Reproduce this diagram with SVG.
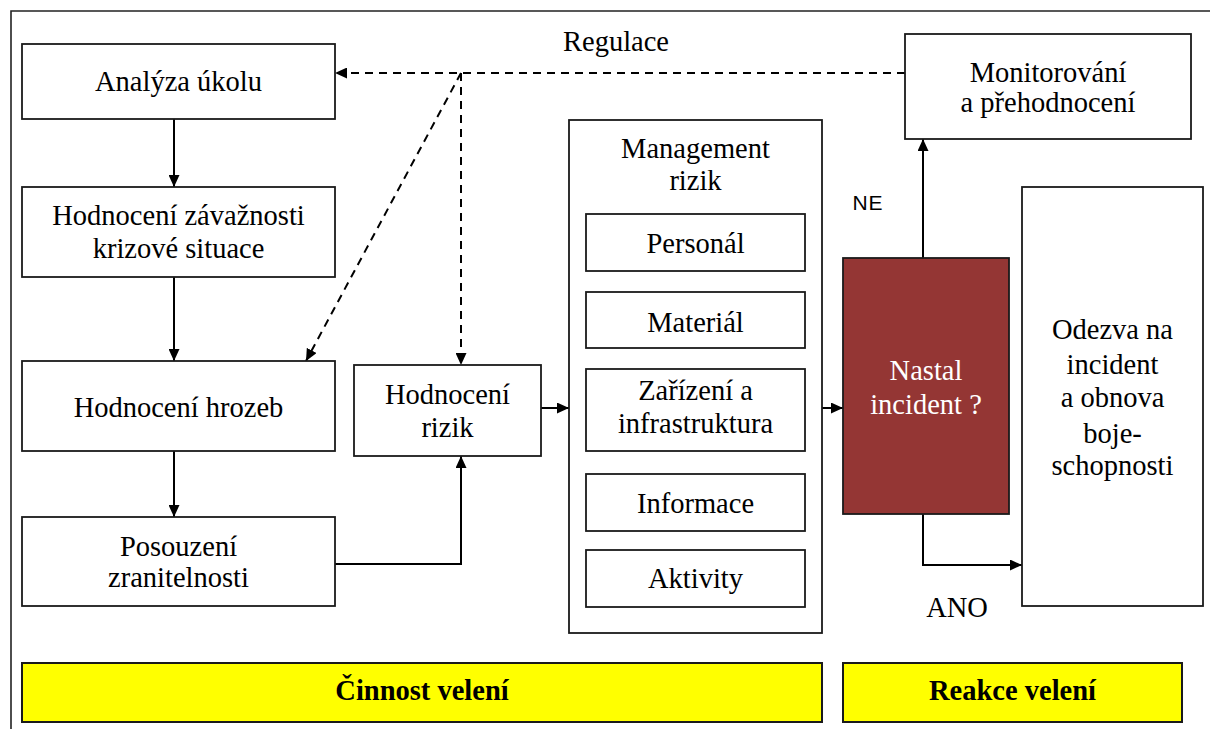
<svg xmlns="http://www.w3.org/2000/svg" width="1210" height="729" viewBox="0 0 1210 729">
  <style>
    .box { fill: #ffffff; stroke: #1a1a1a; stroke-width: 1.8; }
    .band { fill: #ffff00; stroke: #1a1a1a; stroke-width: 2; }
    .alert { fill: #943634; stroke: #1a1a1a; stroke-width: 1.8; }
    .t { font-family: 'Liberation Serif', 'DejaVu Serif', serif; font-size: 28.5px; fill: #000000; text-anchor: middle; }
    .tw { fill: #ffffff; }
    .tb { font-weight: bold; }
    .ts { font-family: 'Liberation Sans', 'DejaVu Sans', sans-serif; font-size: 21px; fill: #000000; text-anchor: middle; letter-spacing: 1px; }
    .link { fill: none; stroke: #000000; stroke-width: 2; marker-end: url(#arrow); }
    .dash { fill: none; stroke: #000000; stroke-width: 2; stroke-dasharray: 8 6; }
    .frame { fill: none; stroke: #222222; stroke-width: 1.6; }
  </style>
  <defs>
    <marker id="arrow" markerUnits="userSpaceOnUse" markerWidth="12" markerHeight="11" refX="12" refY="5.5" orient="auto">
      <path d="M0,0 L12,5.5 L0,11 z" fill="#000000"/>
    </marker>
  </defs>

  <rect width="1210" height="729" fill="#ffffff"/>

  <!-- page frame (top and left edges only) -->
  <path class="frame" d="M11,729 V11 H1210"/>

  <!-- connectors -->
  <g id="connectors">
    <path class="link" d="M174,119 V187"/>
    <path class="link" d="M174,277 V361"/>
    <path class="link" d="M174,451 V517"/>
    <path class="link" d="M335,564 H461 V456"/>
    <path class="link" d="M541,408 H569"/>
    <path class="link" d="M822,408 H843"/>
    <path class="link" d="M923,258 V139"/>
    <path class="link" d="M923,514 V565 H1022"/>
    <path class="dash" d="M905,73 H335" marker-end="url(#arrow)"/>
    <path class="dash" d="M461,73 L306,361" marker-end="url(#arrow)"/>
    <path class="dash" d="M461,73 V365" marker-end="url(#arrow)"/>
    <text class="t" x="616" y="51">Regulace</text>
    <text class="ts" x="868" y="210">NE</text>
    <text class="t" x="957" y="617">ANO</text>
  </g>

  <g id="analyza">
    <rect class="box" x="22" y="44" width="313" height="75"/>
    <text class="t" x="178.5" y="91">Analýza úkolu</text>
  </g>

  <g id="zavaznost">
    <rect class="box" x="22" y="187" width="313" height="90"/>
    <text class="t" x="178.5" y="225">Hodnocení závažnosti</text>
    <text class="t" x="178.5" y="258">krizové situace</text>
  </g>

  <g id="hrozby">
    <rect class="box" x="22" y="361" width="313" height="90"/>
    <text class="t" x="178.5" y="417">Hodnocení hrozeb</text>
  </g>

  <g id="zranitelnost">
    <rect class="box" x="22" y="517" width="313" height="89"/>
    <text class="t" x="178.5" y="556">Posouzení</text>
    <text class="t" x="178.5" y="587">zranitelnosti</text>
  </g>

  <g id="rizika">
    <rect class="box" x="354" y="365" width="187" height="91"/>
    <text class="t" x="447.5" y="404">Hodnocení</text>
    <text class="t" x="447.5" y="437">rizik</text>
  </g>

  <g id="management">
    <rect class="box" x="569" y="120" width="253" height="513"/>
    <text class="t" x="695.5" y="158">Management</text>
    <text class="t" x="695.5" y="190">rizik</text>
  </g>

  <g id="personal">
    <rect class="box" x="586" y="214" width="219" height="57"/>
    <text class="t" x="695.5" y="253">Personál</text>
  </g>

  <g id="material">
    <rect class="box" x="586" y="292" width="219" height="56"/>
    <text class="t" x="695.5" y="332">Materiál</text>
  </g>

  <g id="zarizeni">
    <rect class="box" x="586" y="369" width="219" height="82"/>
    <text class="t" x="695.5" y="400">Zařízení a</text>
    <text class="t" x="695.5" y="433">infrastruktura</text>
  </g>

  <g id="informace">
    <rect class="box" x="586" y="474" width="219" height="57"/>
    <text class="t" x="695.5" y="513">Informace</text>
  </g>

  <g id="aktivity">
    <rect class="box" x="586" y="550" width="219" height="57"/>
    <text class="t" x="695.5" y="588">Aktivity</text>
  </g>

  <g id="monitorovani">
    <rect class="box" x="905" y="34" width="286" height="105"/>
    <text class="t" x="1048" y="82">Monitorování</text>
    <text class="t" x="1048" y="112">a přehodnocení</text>
  </g>

  <g id="incident">
    <rect class="alert" x="843" y="258" width="166" height="256"/>
    <text class="t tw" x="926" y="380">Nastal</text>
    <text class="t tw" x="926" y="414">incident ?</text>
  </g>

  <g id="odezva">
    <rect class="box" x="1022" y="187" width="181" height="419"/>
    <text class="t" x="1112.5" y="339">Odezva na</text>
    <text class="t" x="1112.5" y="374">incident</text>
    <text class="t" x="1112.5" y="407">a obnova</text>
    <text class="t" x="1112.5" y="443">boje-</text>
    <text class="t" x="1112.5" y="475">schopnosti</text>
  </g>

  <g id="cinnost">
    <rect class="band" x="22" y="663" width="800" height="59"/>
    <text class="t tb" x="422" y="700">Činnost velení</text>
  </g>

  <g id="reakce">
    <rect class="band" x="843" y="663" width="339" height="59"/>
    <text class="t tb" x="1012.5" y="700">Reakce velení</text>
  </g>
</svg>
